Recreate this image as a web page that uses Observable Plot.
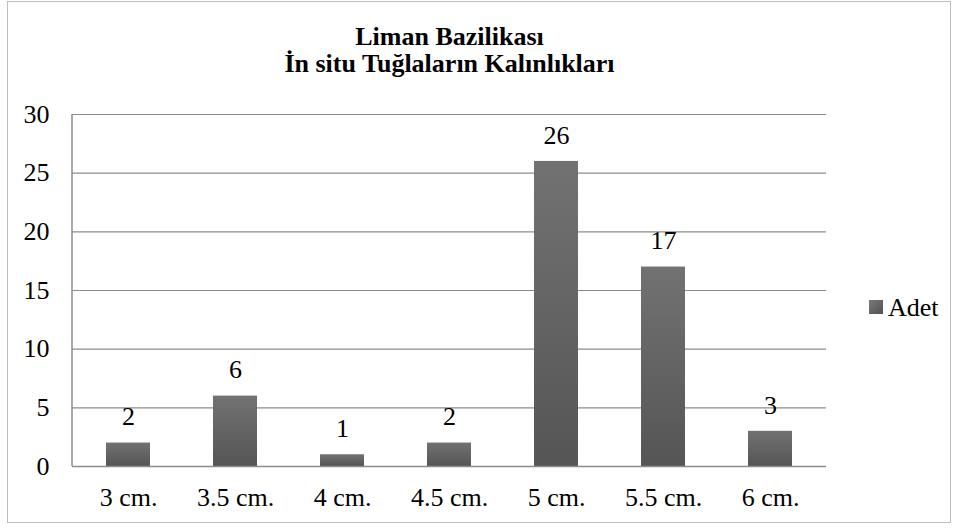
<!DOCTYPE html>
<html><head><meta charset="utf-8">
<script src="https://cdn.jsdelivr.net/npm/d3@7"></script>
<script src="https://cdn.jsdelivr.net/npm/@observablehq/plot@0.6"></script>
<style>
html,body{margin:0;padding:0;background:#fff;}
#wrap{position:relative;width:960px;height:530px;}
#border{position:absolute;left:7px;top:1px;width:944px;height:522px;border:1.5px solid #bdbdbd;box-sizing:border-box;pointer-events:none;}
#wrap svg, #wrap svg text{font-family:"Liberation Serif", "DejaVu Serif", serif !important;}
#wrap svg{font-size:26px !important;}
</style></head>
<body><div id="wrap"><div id="border"></div></div>
<script>
const categories = ["3 cm.","3.5 cm.","4 cm.","4.5 cm.","5 cm.","5.5 cm.","6 cm."];
const counts = [2,6,1,2,26,17,3];
const yTicks = [0,5,10,15,20,25,30];
const titleLines = ["Liman Bazilikası","İn situ Tuğlaların Kalınlıkları"];
const seriesName = "Adet";

const data = categories.map((c,i)=>({cat:c, v:counts[i]}));
const FONT = "Liberation Serif";

const chart = Plot.plot({
  width:960, height:530,
  marginLeft:72, marginRight:134, marginTop:114, marginBottom:64,
  style:{fontSize:"26px", fontFamily:FONT, color:"#000", background:"transparent"},
  x:{domain:categories, paddingInner:0.59, paddingOuter:0.295, label:null, tickSize:0, tickPadding:21},
  y:{domain:[0,30], ticks:yTicks, label:null, tickSize:0, tickPadding:23},
  marks:[
    Plot.ruleY(yTicks.filter(t=>t>0), {stroke:"#8c8c8c", strokeWidth:1.2, strokeOpacity:1}),
    Plot.barY(data, {x:"cat", y:"v", fill:"url(#barGrad)", style:"filter:drop-shadow(1px 2px 2px rgba(0,0,0,0.35))"}),
    Plot.ruleY([0], {stroke:"#8c8c8c", strokeWidth:1.5}),
    Plot.text(data, {x:"cat", y:"v", text:d=>String(d.v), dy:-26, fontSize:26, fontFamily:FONT, fill:"#000"}),
    Plot.text([titleLines[0]], {frameAnchor:"top", dy:-88, fontSize:26, fontFamily:FONT, fontWeight:"bold", fill:"#000"}),
    Plot.text([titleLines[1]], {frameAnchor:"top", dy:-61, fontSize:26, fontFamily:FONT, fontWeight:"bold", fill:"#000"}),
  ]
});

const svg = d3.select(chart);
const defs = svg.insert("defs", ":first-child");
const g = defs.append("linearGradient").attr("id","barGrad").attr("x1","0").attr("y1","0").attr("x2","0").attr("y2","1");
g.append("stop").attr("offset","0").attr("stop-color","#727272");
g.append("stop").attr("offset","1").attr("stop-color","#555555");
const gl = defs.append("linearGradient").attr("id","legGrad").attr("x1","0").attr("y1","0").attr("x2","1").attr("y2","1");
gl.append("stop").attr("offset","0").attr("stop-color","#7a7a7a");
gl.append("stop").attr("offset","1").attr("stop-color","#505050");

const xs = chart.scale("x"), ys = chart.scale("y");
svg.append("line")
  .attr("x1", xs.range[0]).attr("x2", xs.range[0])
  .attr("y1", ys.apply(30)).attr("y2", ys.apply(0))
  .attr("stroke","#8c8c8c").attr("stroke-width",1.5);

const leg = svg.append("g").attr("class","legend").attr("text-anchor","start");
leg.append("rect").attr("x",869).attr("y",300).attr("width",14).attr("height",14).attr("fill","url(#legGrad)");
leg.append("text").attr("x",888).attr("y",316).attr("font-size",26).attr("font-family",FONT).attr("fill","#000").text(seriesName);

document.getElementById("wrap").appendChild(chart);
</script>
</body></html>
